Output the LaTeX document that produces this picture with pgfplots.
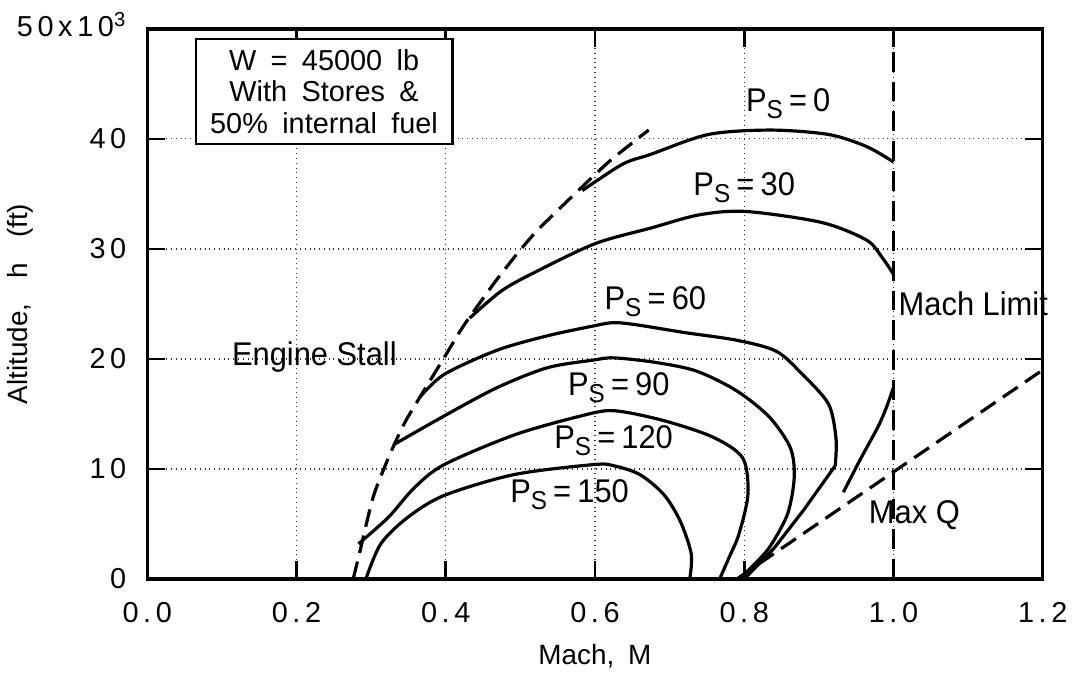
\documentclass[border=0pt]{standalone}
\usepackage{fontspec}
\setmainfont{Liberation Sans}
\usepackage{pgfplots}
\pgfplotsset{compat=1.18}

\newcommand{\Ps}{P\raisebox{-0.4ex}{\fontsize{13}{13}\selectfont S}}
\newcommand{\gp}{\hspace{0.16em}}
\newcommand{\eq}{\hspace{0.2em}=\hspace{0.2em}}

\begin{document}
\begin{tikzpicture}
\begin{axis}[
  scale only axis,
  width=450pt, height=276.5pt,
  xmin=0, xmax=1.2, ymin=0, ymax=50,
  xtick={0,0.2,0.4,0.6,0.8,1.0,1.2},
  xticklabels={0\gp.\gp0,0\gp.\gp2,0\gp.\gp4,0\gp.\gp6,0\gp.\gp8,1\gp.\gp0,1\gp.\gp2},
  ytick={0,10,20,30,40,50},
  yticklabels={0,1\gp0,2\gp0,3\gp0,4\gp0,{\raisebox{0.6ex}{5\gp0\gp x\gp1\gp0\textsuperscript{3}}}},
  tick pos=both,
  tick align=inside,
  major tick length=9pt,
  major tick style={black, line width=1.3pt, solid},
  axis line style={line width=1.7pt},
  xmajorgrids, ymajorgrids,
  major grid style={dotted, line width=0.6pt, black!80},
  ticklabel style={font=\fontsize{14.5}{15}\selectfont},
  xticklabel style={yshift=-8pt},
  yticklabel style={xshift=-7pt},
  xlabel={Mach,\hspace{0.5em}M},
  xlabel style={font=\fontsize{14}{15}\selectfont,
    at={(axis description cs:0.5,-0.14)}, anchor=center},
  ylabel={Altitude,\hspace{0.9em}h\hspace{0.9em}(ft)},
  ylabel style={font=\fontsize{14}{15}\selectfont,
    at={(axis description cs:-0.142,0.5)}, anchor=center},
  clip=false,
]

% engine stall boundary
\addplot[black, line width=1.6pt, dash pattern=on 9pt off 4.5pt, smooth, tension=0.4] coordinates {
  (0.276,0) (0.285,2.5) (0.303,7.5) (0.325,11.3) (0.345,14.2) (0.367,16.7)
  (0.395,19.8) (0.42,22.6) (0.432,23.8) (0.465,26.9) (0.495,29.5)
  (0.523,31.7) (0.573,35) (0.62,38) (0.672,40.8)
};
% mach limit
\addplot[black, line width=1.6pt, dash pattern=on 10pt off 5pt] coordinates {(1.0,0) (1.0,50)};
% max Q
\addplot[black, line width=1.6pt, dash pattern=on 9pt off 4.5pt] coordinates {(0.79,0) (1.2,19)};

% Ps = 0
\addplot[black, line width=1.6pt, smooth, tension=0.5] coordinates {
  (0.583,35.3) (0.637,37.7) (0.675,38.6) (0.752,40.4) (0.835,40.8)
  (0.913,40.4) (0.964,39.3) (1.0,37.9)
};
% Ps = 30
\addplot[black, line width=1.6pt, smooth, tension=0.5] coordinates {
  (0.432,23.7) (0.475,26.2) (0.523,28.0) (0.601,30.5) (0.675,31.9)
  (0.74,33.1) (0.803,33.4) (0.904,32.4) (0.964,30.8) (0.985,29.2) (1.0,27.7)
};
% lower branch from Mach limit to max Q
\addplot[black, line width=1.6pt, smooth, tension=0.5] coordinates {
  (1.0,17.4) (0.99,15.5) (0.979,13.8) (0.955,10.8) (0.933,7.9)
};
% Ps = 60
\addplot[black, line width=1.6pt, smooth, tension=0.5] coordinates {
  (0.365,16.5) (0.398,18.6) (0.469,20.8) (0.536,22.1) (0.598,23.0)
  (0.625,23.3) (0.656,23.1) (0.72,22.4) (0.79,21.7) (0.843,20.7) (0.878,18.6)
  (0.913,15.9) (0.923,12.8) (0.922,10.3)
};
\addplot[black, line width=1.6pt, sharp plot] coordinates {
  (0.922,10.3) (0.88,6.3) (0.84,2.8) (0.80,0)
};
% Ps = 90
\addplot[black, line width=1.6pt, smooth, tension=0.5] coordinates {
  (0.33,12.2) (0.4,14.9) (0.469,17.4) (0.536,19.2) (0.598,19.9)
  (0.625,20.1) (0.68,19.7) (0.736,18.9) (0.79,17.1) (0.834,14.7)
  (0.862,11.9) (0.867,9.2) (0.858,5.9) (0.834,2.9) (0.81,1.1) (0.793,0)
};
% Ps = 120
\addplot[black, line width=1.6pt, smooth, tension=0.5] coordinates {
  (0.283,3.2) (0.323,5.6) (0.358,8.3) (0.398,10.4) (0.492,13.1)
  (0.58,14.8) (0.625,15.3) (0.692,14.4) (0.758,12.9) (0.798,11.0)
  (0.805,7.7) (0.793,4.1) (0.78,2.0) (0.767,0)
};
% Ps = 150
\addplot[black, line width=1.6pt, smooth, tension=0.5] coordinates {
  (0.293,0) (0.313,3.2) (0.349,5.6) (0.398,7.6) (0.492,9.5)
  (0.598,10.4) (0.625,10.3) (0.66,9.5) (0.692,7.7) (0.714,5.3)
  (0.729,2.3) (0.727,0)
};

\begin{scope}[every node/.style={font=\fontsize{16.5}{17}\selectfont, xscale=0.94}]
\node at (axis cs:0.859,43.2) {\Ps\eq0};
\node at (axis cs:0.80,35.6) {\Ps\eq30};
\node at (axis cs:0.681,25.2) {\Ps\eq60};
\node at (axis cs:0.632,17.4) {\Ps\eq90};
\node at (axis cs:0.625,12.6) {\Ps\eq120};
\node at (axis cs:0.566,7.7) {\Ps\eq150};
\node at (axis cs:0.224,20.2) {Engine Stall};
\node at (axis cs:1.107,25.0) {Mach Limit};
\node at (axis cs:1.028,5.8) {Max Q};
\end{scope}

\node[draw, line width=1.1pt, fill=white, align=center,
      minimum width=129pt, minimum height=53pt, inner sep=2pt,
      font=\fontsize{14.5}{16}\selectfont]
  at (axis cs:0.237,44.3)
  {W\hspace{0.5em}=\hspace{0.5em}45000\hspace{0.5em}lb\\
   With\hspace{0.5em}Stores\hspace{0.5em}\&\\
   50\%\hspace{0.5em}internal\hspace{0.5em}fuel};

% page extent
\path (rel axis cs:-0.1644,-0.1573) rectangle (rel axis cs:1.0289,1.0524);
\end{axis}
\end{tikzpicture}
\end{document}
